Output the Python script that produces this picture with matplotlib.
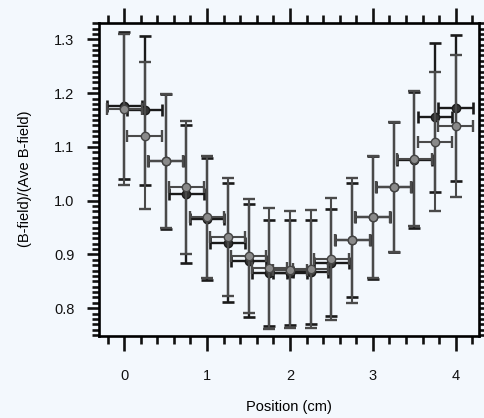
import numpy as np
import matplotlib.pyplot as plt
from matplotlib.ticker import MultipleLocator

plt.rcParams['font.family'] = ['Liberation Sans', 'DejaVu Sans']

# positions (cm), shared by both data sets
pos = [0.0, 0.25, 0.5, 0.75, 1.0, 1.25, 1.5, 1.75, 2.0,
       2.25, 2.5, 2.75, 3.0, 3.25, 3.5, 3.75, 4.0]
pos_err = [0.21] * len(pos)

# dark (filled) series
dark_b = [1.177, 1.168, 1.073, 1.012, 0.966, 0.922, 0.888, 0.866, 0.866,
          0.868, 0.885, 0.927, 0.969, 1.026, 1.076, 1.155, 1.172]
dark_err = [0.137, 0.138, 0.126, 0.128, 0.114, 0.110, 0.105, 0.099, 0.098,
            0.097, 0.099, 0.106, 0.114, 0.121, 0.127, 0.138, 0.136]

# gray (open) series
gray_b = [1.170, 1.121, 1.074, 1.025, 0.970, 0.933, 0.897, 0.874, 0.872,
          0.873, 0.892, 0.926, 0.970, 1.026, 1.078, 1.110, 1.138]
gray_err = [0.140, 0.136, 0.124, 0.124, 0.113, 0.110, 0.106, 0.112, 0.109,
            0.110, 0.113, 0.116, 0.114, 0.121, 0.126, 0.130, 0.132]

bg = '#f3f8fd'
fig = plt.figure(figsize=(4.85, 4.18), dpi=100, facecolor=bg)
ax = fig.add_axes([0.2047, 0.197, 0.7829, 0.7487], facecolor=bg)

ax.errorbar(pos, dark_b, xerr=pos_err, yerr=dark_err, fmt='o', color='#1a1a1a',
            ms=6, mfc='#333333', mec='#1a1a1a', elinewidth=1.7, capsize=4,
            capthick=1.9, zorder=2)
ax.errorbar(pos, gray_b, xerr=pos_err, yerr=gray_err, fmt='o', color='#4a4a4a',
            ms=6, mfc='#8a8a8a', mec='#444444', elinewidth=1.5, capsize=4,
            capthick=1.7, zorder=3)

ax.set_xlim(-0.30, 4.28)
ax.set_ylim(0.749, 1.331)
ax.xaxis.set_major_locator(MultipleLocator(1))
ax.xaxis.set_minor_locator(MultipleLocator(0.2))
ax.yaxis.set_major_locator(MultipleLocator(0.1))
ax.yaxis.set_minor_locator(MultipleLocator(0.01))
ax.yaxis.set_major_formatter(plt.FormatStrFormatter('%.1f'))

for s in ax.spines.values():
    s.set_linewidth(1.9)
ax.tick_params(which='both', direction='out', top=True, right=True,
               width=1.9, colors='#111111', labelsize=10.5)
ax.tick_params(which='major', length=11, pad=13)
ax.tick_params(which='minor', length=5.5)
ax.tick_params(axis='y', which='major', length=9, pad=9)
ax.tick_params(axis='y', which='minor', length=5)

ax.set_xlabel('Position (cm)', fontsize=10.5, labelpad=12)
ax.set_ylabel('(B-field)/(Ave B-field)', fontsize=10.5, labelpad=16)

fig.savefig('out.png', dpi=100, facecolor=bg)
